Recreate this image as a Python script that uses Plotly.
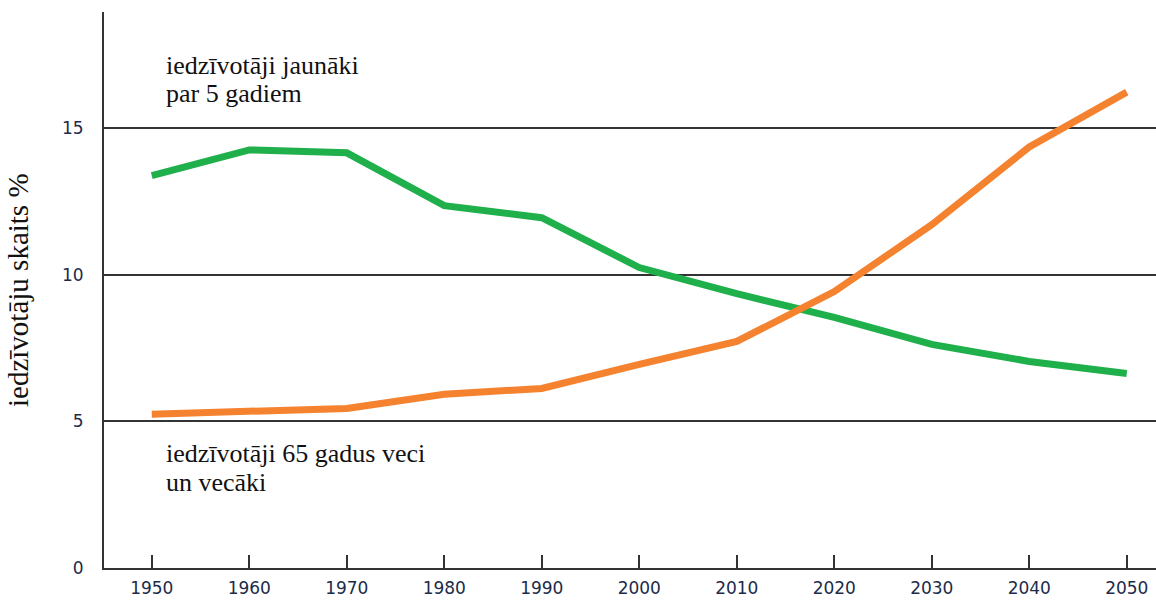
import plotly.graph_objects as go

years = [1950, 1960, 1970, 1980, 1990, 2000, 2010, 2020, 2030, 2040, 2050]
young = [13.37, 14.25, 14.15, 12.35, 11.94, 10.24, 9.35, 8.54, 7.62, 7.04, 6.63]
old = [5.24, 5.34, 5.44, 5.92, 6.12, 6.94, 7.72, 9.42, 11.7, 14.35, 16.22]

GREEN = "#1fb04b"
ORANGE = "#f5822e"
TICK_COLOR = "#1c2b4a"
SERIF = "Liberation Serif, Times New Roman, serif"
SANS = "DejaVu Sans, Verdana, sans-serif"

fig = go.Figure()
fig.add_trace(go.Scatter(x=years, y=young, mode="lines",
                         line=dict(color=GREEN, width=7), showlegend=False))
fig.add_trace(go.Scatter(x=years, y=old, mode="lines",
                         line=dict(color=ORANGE, width=7), showlegend=False))

# each text line as its own annotation to keep the tight line spacing
labels = [
    ("iedzīvotāji jaunāki", 17.12),
    ("par 5 gadiem", 16.16),
    ("iedzīvotāji 65 gadus veci", 3.89),
    ("un vecāki", 2.92),
]
for txt, yy in labels:
    fig.add_annotation(x=1951.3, y=yy, xref="x", yref="y", xanchor="left", yanchor="middle",
                       text=txt, showarrow=False, align="left",
                       font=dict(family=SERIF, size=26, color="#111"))

fig.add_annotation(x=-(104 - 18) / 1052, y=0.5, xref="paper", yref="paper",
                   xanchor="center", yanchor="middle",
                   text="iedzīvotāju skaits %", textangle=-90, showarrow=False,
                   font=dict(family=SERIF, size=29, color="#111"))

fig.update_layout(
    width=1156, height=601,
    margin=dict(l=104, r=0, t=12, b=33),
    plot_bgcolor="white", paper_bgcolor="white",
    xaxis=dict(range=[1945.1, 2053.0], tickvals=years, ticks="inside", ticklen=13,
               tickwidth=2, tickcolor="#333", showline=True, linecolor="#333", linewidth=2,
               showgrid=False, zeroline=False, ticklabelstandoff=4, automargin=False,
               tickfont=dict(family=SANS, size=17, color=TICK_COLOR)),
    yaxis=dict(range=[0, 18.95], tickvals=[0, 5, 10, 15], showline=True, linecolor="#333",
               linewidth=2, showgrid=True, gridcolor="#333", gridwidth=1.5, zeroline=False,
               ticks="", ticklabelstandoff=15, automargin=False,
               tickfont=dict(family=SANS, size=17, color=TICK_COLOR)),
)

fig.write_html("out.html", config={"displayModeBar": False},
               post_script="document.body.style.margin='0';")
